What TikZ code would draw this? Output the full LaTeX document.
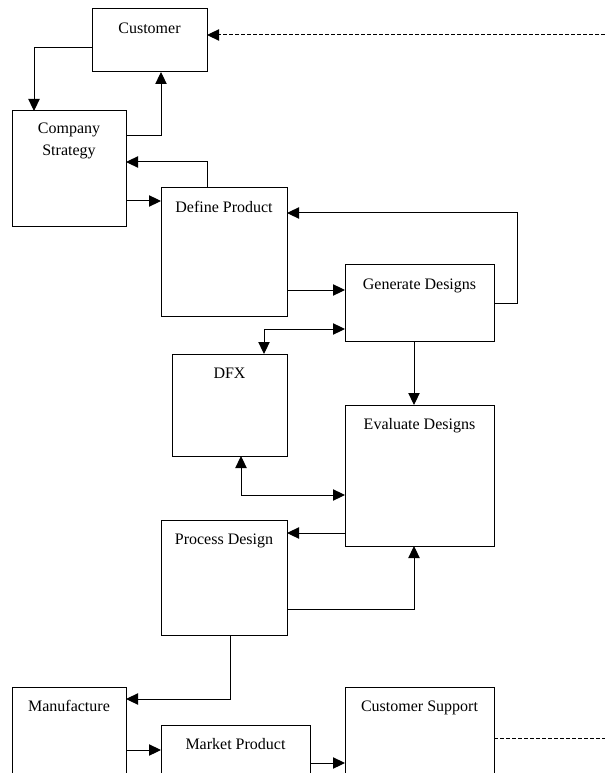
\documentclass[tikz,border=0pt]{standalone}
\usepackage{fontspec}
\setmainfont{Liberation Serif}
\usetikzlibrary{arrows.meta}

\tikzset{
  box/.style={draw, line width=0.75pt, rectangle, anchor=north west, inner sep=0pt, outer sep=0pt},
  title/.style={anchor=north, yshift=-10pt, inner sep=0pt, align=center, font=\fontsize{12}{16.5}\selectfont},
  arr/.style={line width=0.75pt, -{Triangle[length=9pt,width=8.5pt]}},
  dbl/.style={line width=0.75pt, {Triangle[length=9pt,width=8.5pt]}-{Triangle[length=9pt,width=8.5pt]}},
  dashedline/.style={line width=0.75pt, dash pattern=on 3pt off 1.5pt},
}

\begin{document}
\begin{tikzpicture}[x=0.75pt, y=-0.75pt]
  \useasboundingbox (0,0) rectangle (605,773);
  \clip (0,0) rectangle (605,773);

  % Process boxes
  \node[box, minimum width=0.75*115pt, minimum height=0.75*63pt, label={[title]north:Customer}] (cust) at (92,9) {};
  \node[box, minimum width=0.75*114pt, minimum height=0.75*116pt, label={[title, yshift=1.5pt]north:Company\\Strategy}] (strat) at (12,111) {};
  \node[box, minimum width=0.75*126pt, minimum height=0.75*128pt, label={[title]north:Define Product}] (def) at (161,188) {};
  \node[box, minimum width=0.75*149pt, minimum height=0.75*76pt, label={[title]north:Generate Designs}] (gen) at (345,265) {};
  \node[box, minimum width=0.75*115pt, minimum height=0.75*102pt, label={[title]north:DFX}] (dfx) at (172,354) {};
  \node[box, minimum width=0.75*149pt, minimum height=0.75*141pt, label={[title]north:Evaluate Designs}] (eval) at (345,405) {};
  \node[box, minimum width=0.75*126pt, minimum height=0.75*115pt, label={[title]north:Process Design}] (proc) at (161,520) {};
  \node[box, minimum width=0.75*114pt, minimum height=0.75*115pt, label={[title]north:Manufacture}] (manu) at (12,687) {};
  \node[box, minimum width=0.75*149pt, minimum height=0.75*80pt, label={[title]north:Market Product}] (market) at (161,725) {};
  \node[box, minimum width=0.75*149pt, minimum height=0.75*115pt, label={[title]north:Customer Support}] (supp) at (345,687) {};

  % Free ends of the dashed lines
  \coordinate (custin) at (605,35);
  \coordinate (suppout) at (605,738);

  % Connections
  \draw[dashedline, -{Triangle[length=9pt,width=8.5pt]}] (custin) -- (cust.east |- custin);
  \draw[arr] (cust.west |- 0,48) -| (strat.north -| 34,0);
  \draw[arr] (strat.east |- 0,136) -| (cust.south -| 161,0);
  \draw[arr] (def.north -| 207,0) |- (strat.east |- 0,162);
  \draw[arr] (strat.east |- 0,201) -- (def.west |- 0,201);
  \draw[arr] (gen.east |- 0,303) -- (517,303) |- (def.east |- 0,213);
  \draw[arr] (def.east |- 0,290) -- (gen.west |- 0,290);
  \draw[dbl] (gen.west |- 0,329) -| (dfx.north -| 264,0);
  \draw[arr] (gen.south -| 414,0) -- (eval.north -| 414,0);
  \draw[dbl] (dfx.south -| 241,0) |- (eval.west |- 0,495);
  \draw[arr] (eval.west |- 0,533) -- (proc.east |- 0,533);
  \draw[arr] (proc.east |- 0,609) -| (eval.south -| 414,0);
  \draw[arr] (proc.south -| 230,0) |- (manu.east |- 0,699);
  \draw[arr] (manu.east |- 0,750) -- (market.west |- 0,750);
  \draw[arr] (market.east |- 0,763) -- (supp.west |- 0,763);
  \draw[dashedline] (supp.east |- suppout) -- (suppout);
\end{tikzpicture}
\end{document}
